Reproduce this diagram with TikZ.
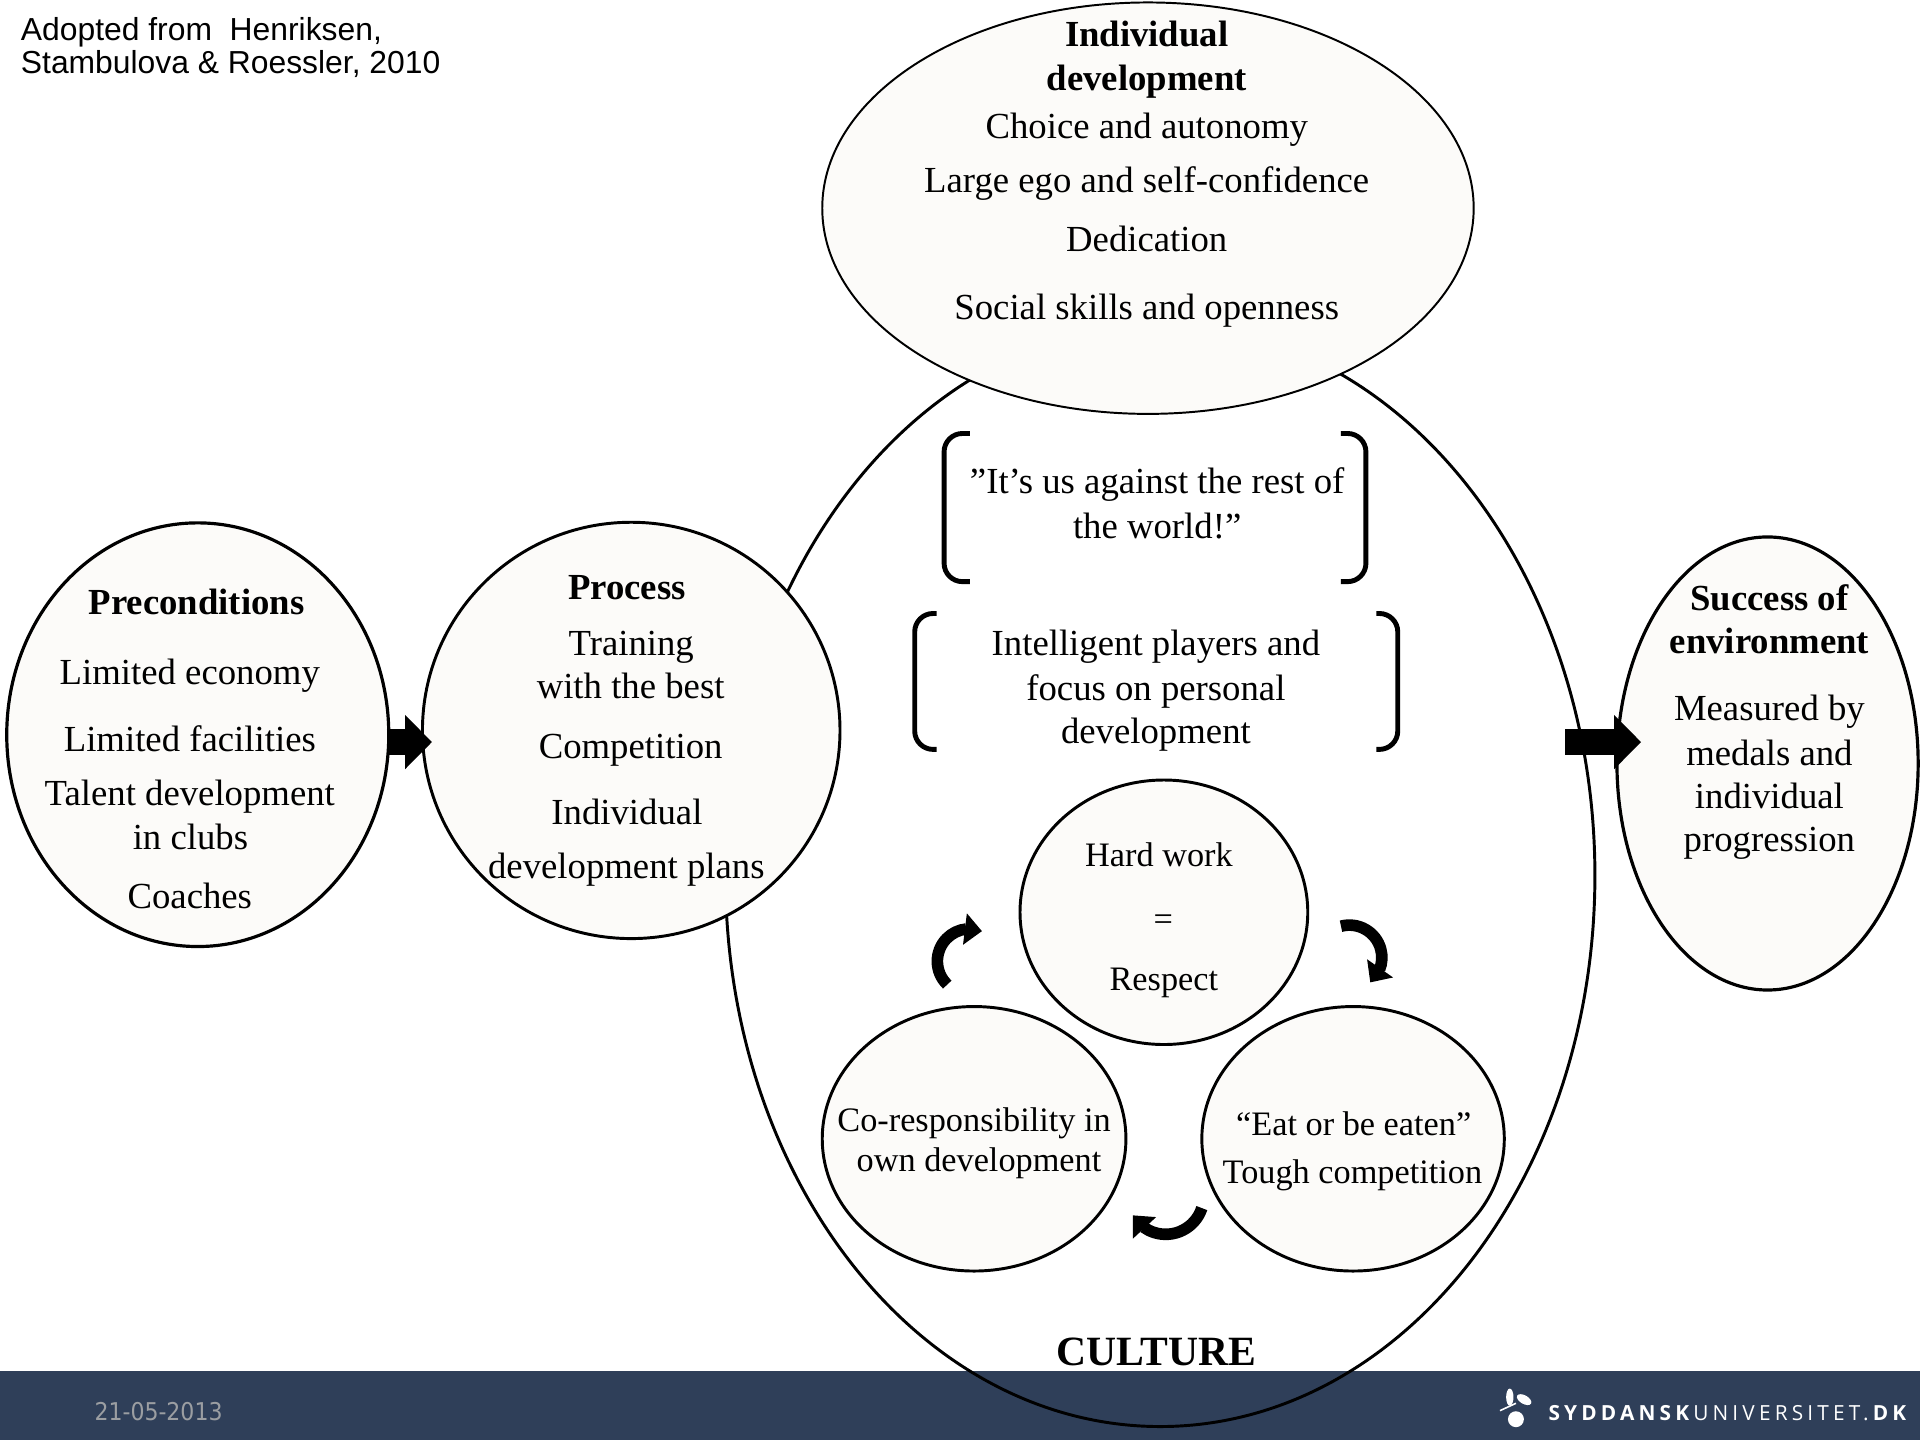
\documentclass[tikz,border=0pt]{standalone}
\usepackage{fontspec}
\setmainfont{Liberation Serif}
\newfontfamily\arialfont{Liberation Sans}
\newfontfamily\datefont{DejaVu Sans Condensed}
\newfontfamily\logofont[LetterSpace=20]{Open Sans}
\usetikzlibrary{shapes.geometric,arrows.meta,bending}
\definecolor{fillc}{RGB}{252,251,249}
\definecolor{barc}{RGB}{47,63,89}
\definecolor{datec}{RGB}{155,158,162}
\tikzset{
  shp/.style={ellipse, draw, fill=fillc, inner sep=0pt, line width=2.4pt},
  t30/.style={anchor=base, inner sep=0pt, font=\fontsize{30}{36}\selectfont},
  b30/.style={anchor=base, inner sep=0pt, font=\fontsize{30}{36}\selectfont\bfseries},
  t28/.style={anchor=base, inner sep=0pt, font=\fontsize{28}{34}\selectfont},
  fat/.style={line width=21pt, -{Triangle[length=22pt,width=43pt]}},
  cyc/.style={line width=9.5pt, -{Triangle[length=14pt,width=25pt,flex]}},
  brk/.style={line width=4pt, rounded corners=15pt},
}
\begin{document}
\begin{tikzpicture}[x=1pt,y=-1pt]
\useasboundingbox (0,0) rectangle (1568,1176);
% footer bar
\fill[barc] (0,1120) rectangle (1568,1176);
\node[anchor=base west, inner sep=0pt, text=datec, font=\datefont\fontsize{20}{24}\selectfont] (date) at (77,1159.7) {21-05-2013};
\node[anchor=base east, inner sep=0pt, text=white, font=\logofont\fontsize{17}{19}\selectfont] (logo) at (1557,1160) {{\bfseries SYDDANSK}\kern3.4pt UNIVERSITET.\kern3.4pt{\bfseries DK}};
% logo icon
\fill[white] (1233,1141) ellipse [x radius=3, y radius=7];
\fill[white, rotate around={-30:(1244.7,1143)}] (1244.7,1143) ellipse [x radius=6.5, y radius=3.5];
\draw[white, line width=1.3pt] (1225,1152) -- (1238,1146);
\fill[white] (1238,1159) circle [radius=6.5];
% big culture ellipse (unfilled)
\node[ellipse, draw, line width=2.4pt, inner sep=0pt, minimum width=710pt, minimum height=900pt] (culture) at (947.5,715) {};
% main shapes
\node[shp, line width=1.6pt, minimum width=532pt, minimum height=336pt] (ind) at (937.5,170) {};
\node[shp, minimum width=341pt, minimum height=340pt] (proc) at (515.5,596.5) {};
\node[shp, line width=2.6pt, minimum width=312pt, minimum height=346pt] (pre) at (161.5,600) {};
\node[shp, line width=2.6pt, minimum width=246pt, minimum height=370pt] (succ) at (1443.5,623.5) {};
\node[shp, minimum width=235pt, minimum height=216pt] (hard) at (950.5,745) {};
\node[shp, minimum width=248pt, minimum height=216pt] (cores) at (795.5,930) {};
\node[shp, minimum width=247pt, minimum height=216pt] (eat) at (1105,930) {};
% top-left reference
\node[anchor=base west, inner sep=0pt, font=\arialfont\fontsize{26}{27}\selectfont] (ref1) at (16.9,33.2) {Adopted from\ \ Henriksen,};
\node[anchor=base west, inner sep=0pt, font=\arialfont\fontsize{26}{27}\selectfont] (ref2) at (16.9,60.4) {Stambulova \& Roessler, 2010};
% individual development
\node[b30] (ind1) at (936.5,38) {Individual};
\node[b30] (ind2) at (936.5,73.5) {development};
\node[t30] (ind3) at (936.5,113) {Choice and autonomy};
\node[t30] (ind4) at (936.5,157) {Large ego and self-confidence};
\node[t30] (ind5) at (936.5,205) {Dedication};
\node[t30] (ind6) at (936.5,261) {Social skills and openness};
% preconditions
\node[b30] (pre1) at (160.5,501.5) {Preconditions};
\node[t30] (pre2) at (155,559.4) {Limited economy};
\node[t30] (pre3) at (155,614) {Limited facilities};
\node[t30] (pre4) at (155,657.5) {Talent development};
\node[t30] (pre5) at (155.5,694) {in clubs};
\node[t30] (pre6) at (155,742) {Coaches};
% process
\node[b30] (proc1) at (512,489.5) {Process};
\node[t30] (proc2) at (515.5,535) {Training};
\node[t30] (proc3) at (515,570.5) {with the best};
\node[t30] (proc4) at (515,619.5) {Competition};
\node[t30] (proc5) at (512,673.7) {Individual};
\node[t30] (proc6) at (511.5,717.3) {development plans};
% success
\node[b30] (succ1) at (1445,498.7) {Success of};
\node[b30] (succ2) at (1445,534) {environment};
\node[t30] (succ3) at (1445,588) {Measured by};
\node[t30] (succ4) at (1445,624.8) {medals and};
\node[t30] (succ5) at (1445,660) {individual};
\node[t30] (succ6) at (1445,695.5) {progression};
% brackets
\draw[brk] (792,354) -- (771,354) -- (771,475) -- (792,475);
\draw[brk] (1095,354) -- (1115.5,354) -- (1115.5,475) -- (1095,475);
\draw[brk] (765,501) -- (747,501) -- (747,612) -- (765,612);
\draw[brk] (1124,501) -- (1141.5,501) -- (1141.5,612) -- (1124,612);
\node[t30] (q1) at (945,403) {”It’s us against the rest of};
\node[t30] (q2) at (945,439.6) {the world!”};
\node[t30] (ip1) at (944,535.5) {Intelligent players and};
\node[t30] (ip2) at (944,571.7) {focus on personal};
\node[t30] (ip3) at (944,607) {development};
% small circle texts
\node[t28] (hard1) at (946.5,708) {Hard work};
\node[t28] (hard2) at (950,760) {=};
\node[t28] (hard3) at (950.5,808.5) {Respect};
\node[t28] (cores1) at (795.5,924) {Co-responsibility in};
\node[t28] (cores2) at (799.5,957) {own development};
\node[t28] (eat1) at (1105.5,927) {“Eat or be eaten”};
\node[t28] (eat2) at (1104.5,966.4) {Tough competition};
% culture label
\node[anchor=base, inner sep=0pt, font=\fontsize{34}{40}\selectfont\bfseries] (cult) at (944.5,1115) {CULTURE};
% cycle arrows
\draw[cyc] (792,785) ++(134:26.5) arc[start angle=134, end angle=292, radius=26.5];
\draw[cyc] (1102,782) ++(-105:26.5) arc[start angle=-105, end angle=50, radius=26.5];
\draw[cyc] (952,977) ++(18:31) arc[start angle=18, end angle=150, radius=31];
% block arrows
\draw[fat] ([xshift=-3pt,yshift=-6pt]pre.east) -- ([xshift=9pt,yshift=-9.5pt]proc.west);
\draw[fat] ([xshift=-25.5pt,yshift=109pt]culture.east) -- ([xshift=21pt,yshift=17.5pt]succ.west);
\end{tikzpicture}
\end{document}
